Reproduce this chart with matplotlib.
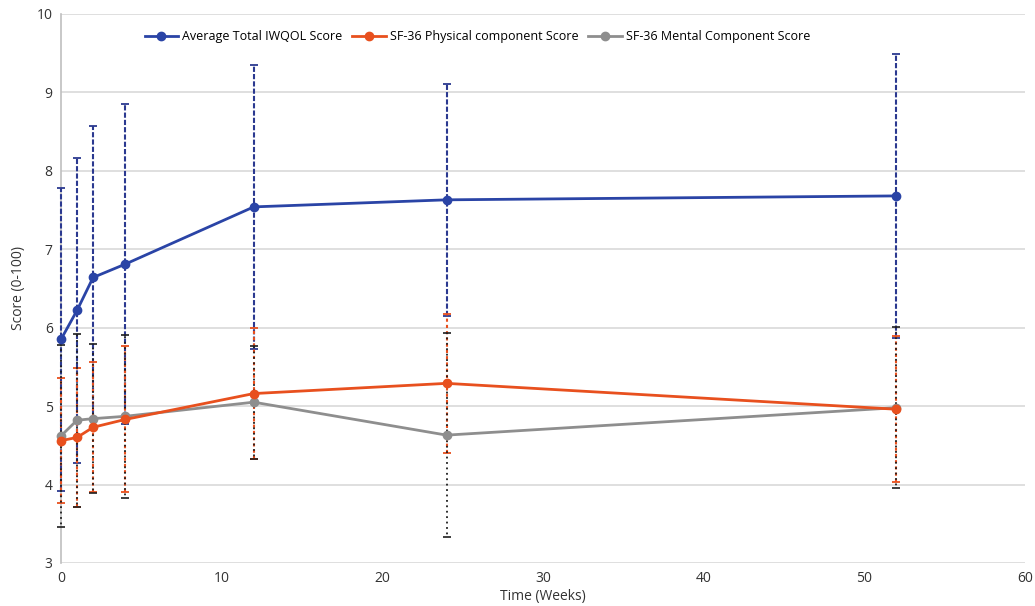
import numpy as np
import matplotlib.pyplot as plt

plt.rcParams['font.family'] = ['Open Sans', 'DejaVu Sans']

weeks = [0, 1, 2, 4, 12, 24, 52]

# Average Total IWQOL Score
iwqol = [5.85, 6.22, 6.64, 6.81, 7.54, 7.63, 7.68]
iwqol_sd = [1.93, 1.94, 1.93, 2.04, 1.81, 1.48, 1.81]

# SF-36 Physical component Score
phys = [4.56, 4.60, 4.73, 4.83, 5.16, 5.29, 4.96]
phys_sd = [0.80, 0.88, 0.83, 0.93, 0.83, 0.89, 0.93]

# SF-36 Mental Component Score
ment = [4.62, 4.82, 4.84, 4.87, 5.05, 4.63, 4.98]
ment_sd = [1.16, 1.10, 0.95, 1.04, 0.72, 1.30, 1.03]

c_blue = '#2A44A6'
c_orange = '#E8501E'
c_gray = '#8E8E8E'

fig = plt.figure(figsize=(10.35, 6.06), dpi=100)
ax = fig.add_axes([0.0589, 0.071, 0.9314, 0.906])

# error bars (drawn behind the lines, but over the axis spine)
eb = ax.errorbar(weeks, iwqol, yerr=iwqol_sd, fmt='none', ecolor='#2B3990',
                 elinewidth=1.5, capsize=3, capthick=1.3, zorder=3)
eb[2][0].set_linestyle((0, (2.5, 1)))
eb = ax.errorbar(weeks, phys, yerr=phys_sd, fmt='none', ecolor=c_orange,
                 elinewidth=1.5, capsize=3, capthick=1.3, zorder=3.2)
eb[2][0].set_linestyle((0, (1.5, 1.5)))
eb = ax.errorbar(weeks, ment, yerr=ment_sd, fmt='none', ecolor='#1E1E1E',
                 elinewidth=1.3, capsize=3, capthick=1.2, zorder=3.4)
eb[2][0].set_linestyle((1.5, (1, 2)))

ax.plot(weeks, iwqol, color=c_blue, lw=2.0, marker='o', ms=6, label='Average Total IWQOL Score', zorder=5)
ax.plot(weeks, phys, color=c_orange, lw=2.0, marker='o', ms=6, label='SF-36 Physical component Score', zorder=6)
ax.plot(weeks, ment, color=c_gray, lw=2.0, marker='o', ms=6, label='SF-36 Mental Component Score', zorder=5)

for art in ax.get_children():
    if hasattr(art, 'set_clip_on'):
        art.set_clip_on(False)

ax.set_xlim(0, 60)
ax.set_ylim(3, 10)
ax.set_xticks(range(0, 61, 10))
ax.set_yticks(range(3, 11))
ax.tick_params(length=0, labelsize=10, colors='#333333', pad=6)
ax.grid(axis='y', color='#D9D9D9', lw=1.2)
ax.set_axisbelow(True)
for s in ['top', 'right', 'bottom']:
    ax.spines[s].set_visible(False)
ax.spines['left'].set_color('#BFBFBF')
ax.spines['left'].set_linewidth(1.2)
ax.spines['left'].set_zorder(1)

ax.set_xlabel('Time (Weeks)', fontsize=10, color='#333333', labelpad=2)
ax.set_ylabel('Score (0-100)', fontsize=10, color='#333333', labelpad=8)

ax.legend(loc='center', bbox_to_anchor=(0.432, 0.958), ncol=3, frameon=False,
          fontsize=9, handlelength=2.7, handletextpad=0.3, columnspacing=0.8)

fig.savefig('out.png', dpi=100)
